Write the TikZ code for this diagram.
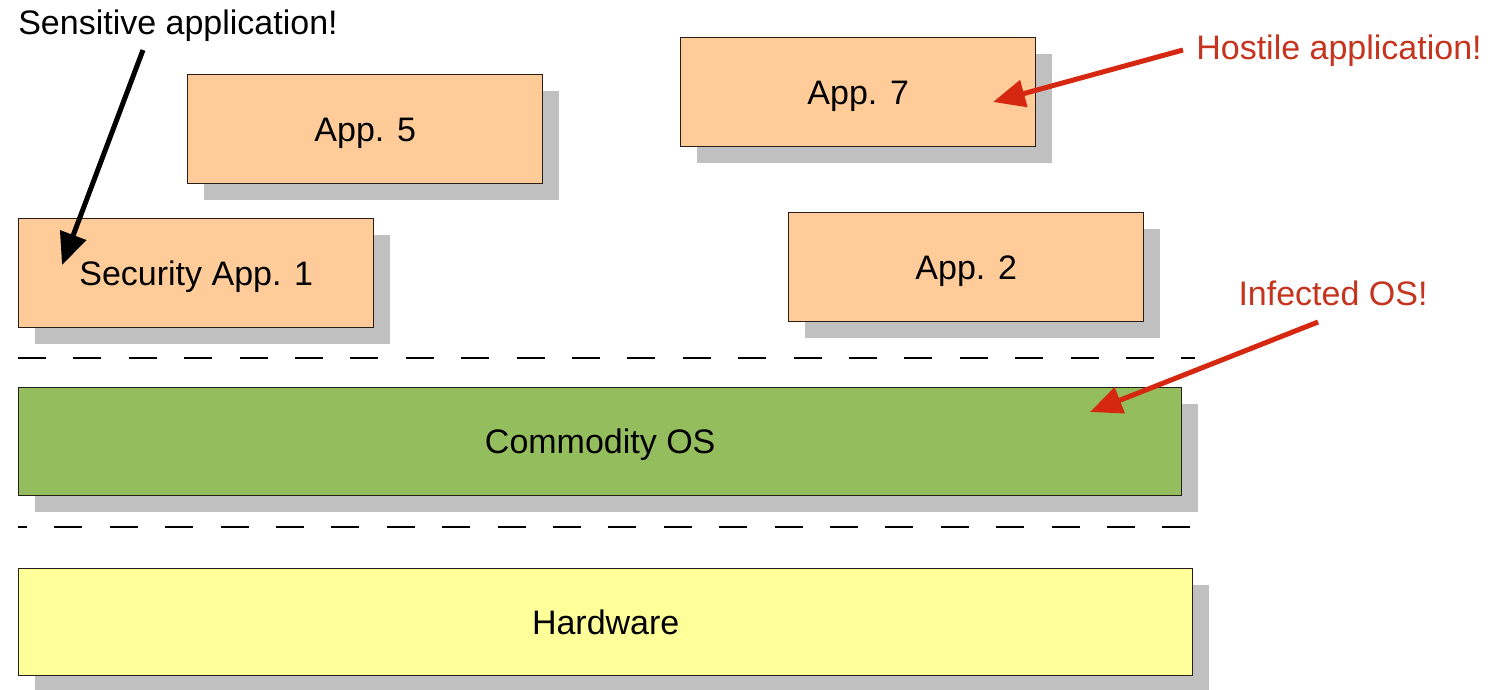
\documentclass[tikz,border=0pt]{standalone}
\usepackage{fontspec}
\setmainfont{Liberation Sans}
\usetikzlibrary{arrows.meta,shadows}

\definecolor{appfill}{RGB}{255,204,153}
\definecolor{osfill}{RGB}{148,189,94}
\definecolor{hwfill}{RGB}{255,255,153}
\definecolor{shadowgray}{RGB}{192,192,192}
\definecolor{framecol}{RGB}{40,30,25}
\definecolor{warnred}{RGB}{196,52,30}
\definecolor{arrowred}{RGB}{214,40,16}

\tikzset{
  label text/.style={font=\fontsize{34}{40}\selectfont, text height=24pt, text depth=0pt},
  layerbox/.style={draw=framecol, line width=1.4pt, rectangle, anchor=north west,
    inner sep=0pt, label text,
    drop shadow={shadow xshift=16pt, shadow yshift=-16pt, fill=shadowgray, opacity=1}},
  appbox/.style={layerbox, fill=appfill, minimum width=355pt, minimum height=109pt},
  note/.style={label text, inner sep=0pt},
  rednote/.style={note, text=warnred},
  layerline/.style={line width=2pt, dash pattern=on 28pt off 27.4pt},
  pointer/.style={line width=5pt, -{Triangle[length=32pt, width=27pt]}},
}

\begin{document}
\begin{tikzpicture}[x=1pt, y=-1pt]
\useasboundingbox (0,0) rectangle (1495,689);

% application boxes
\node[appbox] (app5) at (187,74) {App. 5};
\node[appbox] (app7) at (680,37) {App. 7};
\node[appbox] (sec1) at (18,218) {Security App. 1};
\node[appbox] (app2) at (788,212) {App. 2};

% separators between layers
\draw[layerline] (18,358) -- (1195,358);
\draw[layerline, dash phase=19pt] (18,527) -- (1195,527);

% operating system and hardware layers
\node[layerbox, fill=osfill, minimum width=1163pt, minimum height=108pt] (os) at (18,387) {Commodity OS};
\node[layerbox, fill=hwfill, minimum width=1174pt, minimum height=107pt] (hw) at (18,568) {Hardware};

% annotations
\node[note] (sens) at (178,22) {Sensitive application!};
\node[rednote] (host) at (1339,47) {Hostile application!};
\node[rednote] (infec) at (1333,293) {Infected OS!};

\coordinate (sensfrom) at (143,50);
\coordinate (sensto) at (62,265);
\coordinate (hostfrom) at (1183,50);
\coordinate (hostto) at (993,102);
\coordinate (infecfrom) at (1318,322);
\coordinate (infecto) at (1090,412);

\draw[pointer, black] (sensfrom) -- (sensto);
\draw[pointer, arrowred] (hostfrom) -- (hostto);
\draw[pointer, arrowred] (infecfrom) -- (infecto);
\end{tikzpicture}
\end{document}
